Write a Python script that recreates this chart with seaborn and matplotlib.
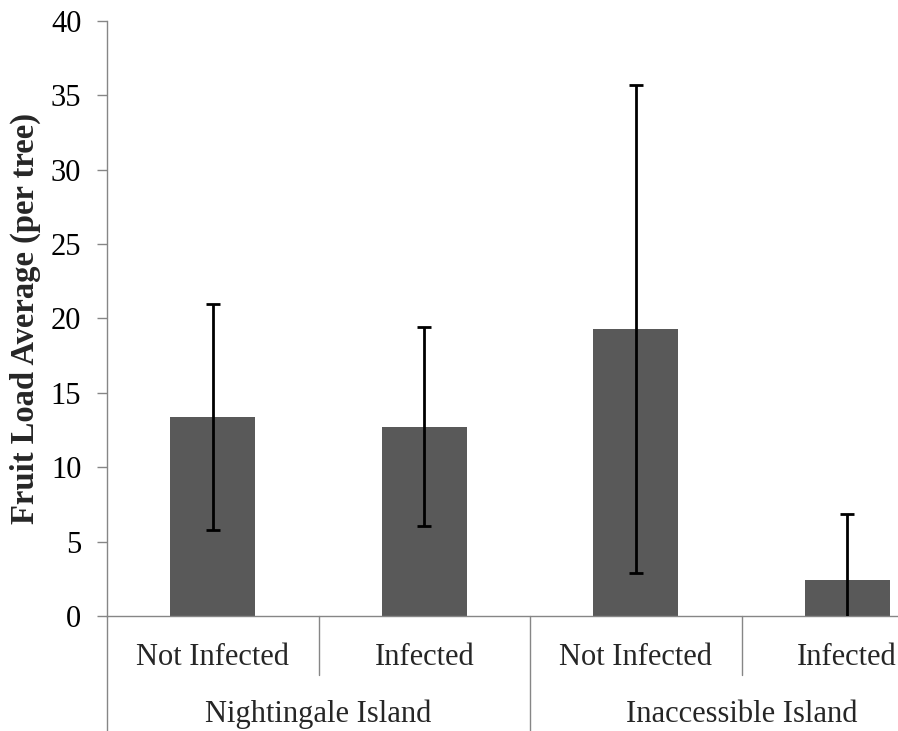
import matplotlib
matplotlib.use("Agg")
import matplotlib.pyplot as plt
import seaborn as sns
import pandas as pd

# ---- data ----
islands = ["Nightingale Island", "Nightingale Island", "Inaccessible Island", "Inaccessible Island"]
status = ["Not Infected", "Infected", "Not Infected", "Infected"]
means = [13.36, 12.73, 19.30, 2.43]
errors = [7.58, 6.69, 16.40, 4.40]
group_names = ["Nightingale Island", "Inaccessible Island"]
y_ticks = [0, 5, 10, 15, 20, 25, 30, 35, 40]
y_label = "Fruit Load Average (per tree)"

sns.set_style("white")
plt.rcParams["font.family"] = ["Liberation Serif", "DejaVu Serif"]

df = pd.DataFrame({
    "key": [f"{i}|{s}" for i, s in zip(islands, status)],
    "island": islands,
    "status": status,
    "mean": means,
    "err": errors,
})

W, H = 898, 731
fig = plt.figure(figsize=(W / 100, H / 100), dpi=100)
ax_left, ax_right = 107, 953
ax_top, ax_bottom = 20.8, 616
ax = fig.add_axes([ax_left / W, (H - ax_bottom) / H,
                   (ax_right - ax_left) / W, (ax_bottom - ax_top) / H])

bar_color = "#595959"
axis_gray = "#868686"

sns.barplot(data=df, x="key", y="mean", order=list(df["key"]), color=bar_color,
            saturation=1, width=0.40, errorbar=None, ax=ax, edgecolor="none")

centers = [p.get_x() + p.get_width() / 2 for p in ax.patches]
ax.errorbar(centers, df["mean"], yerr=df["err"], fmt="none", ecolor="black",
            elinewidth=2.0, capsize=5, capthick=2.0, zorder=3)

ax.set_ylim(0, 40)
ax.set_xlim(-0.5, len(df) - 0.5)
ax.set_yticks(y_ticks)
ax.set_yticklabels([str(t) for t in y_ticks])
ax.tick_params(axis="y", direction="out", left=True, length=7, width=1,
               color=axis_gray, pad=11.5, labelsize=22, labelcolor="black")
ax.set_xticks([])
ax.set_xlabel("")
ax.set_ylabel(y_label, fontsize=23.5, fontweight="bold", labelpad=7)

for side in ["top", "right"]:
    ax.spines[side].set_visible(False)
for side in ["left", "bottom"]:
    ax.spines[side].set_color(axis_gray)
    ax.spines[side].set_linewidth(1.0)

# ---- multi-level category axis ----
axh = ax_bottom - ax_top
trans = ax.get_xaxis_transform()

def fy(px_below):
    return -px_below / axh

for x, s in zip(centers, df["status"]):
    ax.text(x, fy(665 - ax_bottom), s, transform=trans, ha="center",
            va="baseline", fontsize=22, clip_on=False)

# group labels centred over their members
for g in group_names:
    xs = [c for c, isl in zip(centers, df["island"]) if isl == g]
    gx = (min(xs) + max(xs)) / 2
    ax.text(gx, fy(721.7 - ax_bottom), g, transform=trans, ha="center",
            va="baseline", fontsize=22, clip_on=False)

# separators between categories
n = len(df)
for k in range(1, n):
    xb = k - 0.5
    same_group = df["island"][k] == df["island"][k - 1]
    depth = (675 - ax_bottom) if same_group else (H + 10 - ax_bottom)
    ax.plot([xb, xb], [0, fy(depth)], transform=trans, color=axis_gray,
            lw=1.0, clip_on=False)
# left axis line extended down through the label area
ax.plot([-0.5, -0.5], [0, fy(H + 10 - ax_bottom)], transform=trans,
        color=axis_gray, lw=1.0, clip_on=False)

fig.savefig("out.png", dpi=100)
